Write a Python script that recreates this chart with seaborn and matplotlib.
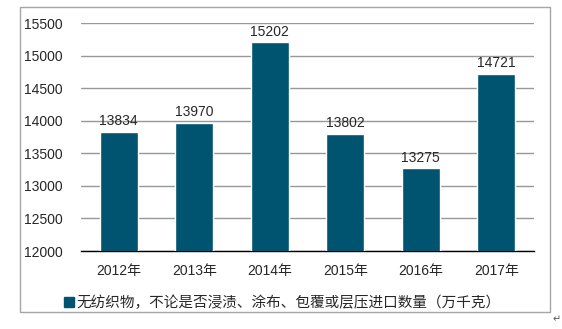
import matplotlib
matplotlib.use("Agg")
import matplotlib.pyplot as plt
import seaborn as sns
import pandas as pd
from matplotlib.patches import Rectangle, Patch

years = ["2012年", "2013年", "2014年", "2015年", "2016年", "2017年"]
values = [13834, 13970, 15202, 13802, 13275, 14721]
series_name = "无纺织物，不论是否浸渍、涂布、包覆或层压进口数量（万千克）"
yticks = [12000, 12500, 13000, 13500, 14000, 14500, 15000, 15500]

sns.set_theme(style="white")
plt.rcParams['font.family'] = ['Liberation Sans', 'Noto Sans CJK SC', 'DejaVu Sans']

df = pd.DataFrame({"year": years, "value": values})
color = "#00546F"

fig = plt.figure(figsize=(5.62, 3.29), dpi=100)
ax = fig.add_axes([81/562, 1-251/329, 453/562, (251-23)/329])

sns.barplot(data=df, x="year", y="value", color=color, width=0.5, ax=ax,
            saturation=1, zorder=3)

ax.set_ylim(12000, 15500)
ax.set_yticks(yticks)
ax.set_yticklabels([str(t) for t in yticks])
ax.yaxis.grid(True, color="#989898", linewidth=1.0, zorder=0)
ax.set_axisbelow(True)
ax.set_xlabel("")
ax.set_ylabel("")
for s in ["left", "right", "top"]:
    ax.spines[s].set_visible(False)
ax.spines["bottom"].set_color("#000000")
ax.spines["bottom"].set_linewidth(1.0)
ax.tick_params(axis="y", length=0, pad=13, labelsize=10, labelcolor="#262626")
ax.tick_params(axis="x", length=0, pad=9, labelsize=10, labelcolor="#262626")

for i, v in enumerate(values):
    ax.text(i, v + 50, str(v), ha="center", va="bottom", fontsize=10,
            color="#262626", zorder=4)

handle = Patch(facecolor=color, edgecolor=color)
fig.legend([handle], [series_name], loc="center", bbox_to_anchor=(0.502, 1-303/329),
           frameon=False, fontsize=10.5, handlelength=0.7, handleheight=0.7,
           handletextpad=0.15, borderaxespad=0)

frame = Rectangle((20/562, 1-312/329), (550-20)/562, (312-7)/329,
                  transform=fig.transFigure, fill=False, edgecolor="#A6A6A6",
                  linewidth=1.0)
fig.patches.append(frame)
fig.text(553/562, 1-319/329, "↵", fontsize=7, color="#555555",
         family=["DejaVu Sans"], ha="left", va="center")

fig.savefig("out.png", dpi=100)
